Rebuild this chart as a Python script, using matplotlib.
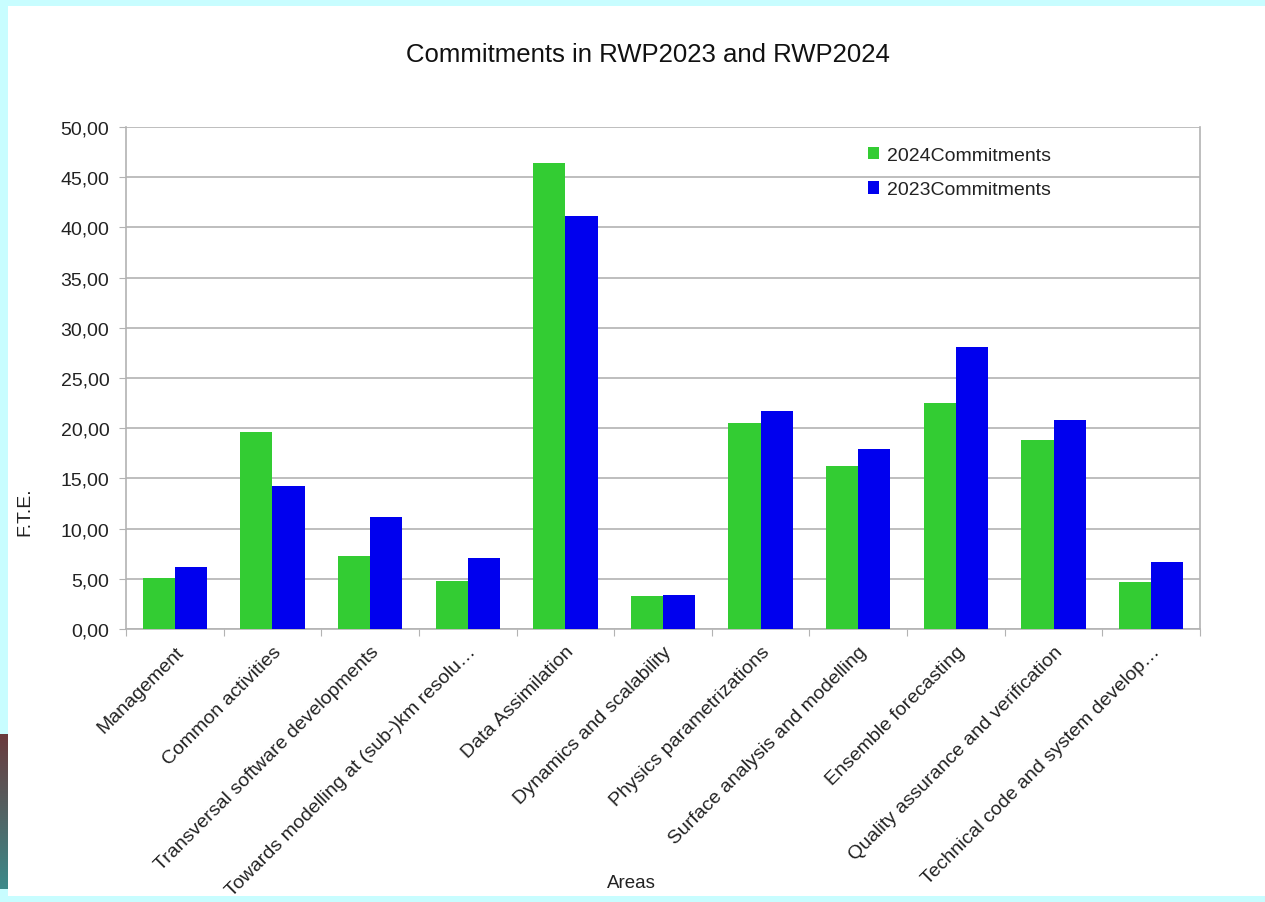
import matplotlib
matplotlib.use("Agg")
import matplotlib.pyplot as plt
import numpy as np
from matplotlib.patches import Rectangle
from matplotlib.colors import LinearSegmentedColormap

plt.rcParams['font.family'] = ['Liberation Sans', 'DejaVu Sans']

categories = [
    "Management",
    "Common activities",
    "Transversal software developments",
    "Towards modelling at (sub-)km resolu…",
    "Data Assimilation",
    "Dynamics and scalability",
    "Physics parametrizations",
    "Surface analysis and modelling",
    "Ensemble forecasting",
    "Quality assurance and verification",
    "Technical code and system develop…",
]
commit_2024 = [5.05, 19.6, 7.25, 4.8, 46.45, 3.25, 20.5, 16.2, 22.5, 18.8, 4.65]
commit_2023 = [6.2, 14.2, 11.15, 7.1, 41.15, 3.4, 21.75, 17.9, 28.1, 20.8, 6.65]
series_names = ["2024Commitments", "2023Commitments"]
yticks = [0, 5, 10, 15, 20, 25, 30, 35, 40, 45, 50]

W, H = 1265, 903
fig = plt.figure(figsize=(W / 100, H / 100), dpi=100)
fig.patch.set_facecolor('#c8fdff')

# background panel axes
bg = fig.add_axes([0, 0, 1, 1], zorder=-10)
bg.axis('off')
bg.add_patch(Rectangle((8, 7), W - 8, 890, facecolor='white', edgecolor='none'))
cmap = LinearSegmentedColormap.from_list('strip', ['#6a3a3c', '#3c8a8a'])
bg.imshow(np.linspace(0, 1, 100).reshape(-1, 1), aspect='auto', cmap=cmap,
          extent=(0, 8, 890, 735))
bg.set_xlim(0, W)
bg.set_ylim(H, 0)

left, right, top, bottom = 126, 1200, 128, 630
ax = fig.add_axes([left / W, 1 - bottom / H, (right - left) / W, (bottom - top) / H])
ax.set_facecolor('none')

x = np.arange(len(categories))
bw = 0.33
green = '#33cc33'
blue = '#0000ee'
ax.bar(x - bw / 2, commit_2024, width=bw, color=green, label=series_names[0], zorder=3)
ax.bar(x + bw / 2, commit_2023, width=bw, color=blue, label=series_names[1], zorder=3)

ax.set_xlim(-0.5, len(categories) - 0.5)
ax.set_ylim(0, 50)
ax.set_yticks(yticks)
ax.set_yticklabels([f"{v:.2f}".replace('.', ',') for v in yticks], fontsize=14, color='#222222')
ax.yaxis.grid(True, color='#b3b3b3', linewidth=1.2, zorder=0)
ax.set_axisbelow(True)

ax.set_xticks(np.arange(-0.5, len(categories)), minor=False)
ax.set_xticklabels([])
ax.set_xticks(x, minor=True)
ax.set_xticklabels(categories, minor=True, rotation=45, ha='right',
                   rotation_mode='anchor', fontsize=14, color='#222222')
ax.tick_params(axis='x', which='minor', length=0, pad=10)
ax.tick_params(axis='x', which='major', length=5, color='#b3b3b3', direction='out')
ax.tick_params(axis='y', length=5, color='#b3b3b3', pad=7)

for s in ['left', 'bottom', 'right', 'top']:
    ax.spines[s].set_color('#b3b3b3')
    ax.spines[s].set_linewidth(1.2)
ax.spines['top'].set_visible(False)

fig.text(648 / W, 1 - 55 / H, "Commitments in RWP2023 and RWP2024",
         ha='center', va='center', fontsize=18.5, color='#111111')
fig.text(25 / W, 1 - 512 / H, "F.T.E.", rotation=90, ha='center', va='center',
         fontsize=14, color='#222222')
fig.text(631 / W, 1 - 884 / H, "Areas", ha='center', va='center',
         fontsize=13.5, color='#222222')

leg = ax.legend(loc='upper left', bbox_to_anchor=((860 - left) / (right - left), 1 - (140 - top) / (bottom - top)),
                frameon=False, fontsize=14, handlelength=0.6, handleheight=0.6,
                handletextpad=0.4, labelspacing=0.9, borderaxespad=0)
for t in leg.get_texts():
    t.set_color('#222222')

fig.savefig('out.png', dpi=100, facecolor=fig.get_facecolor())
